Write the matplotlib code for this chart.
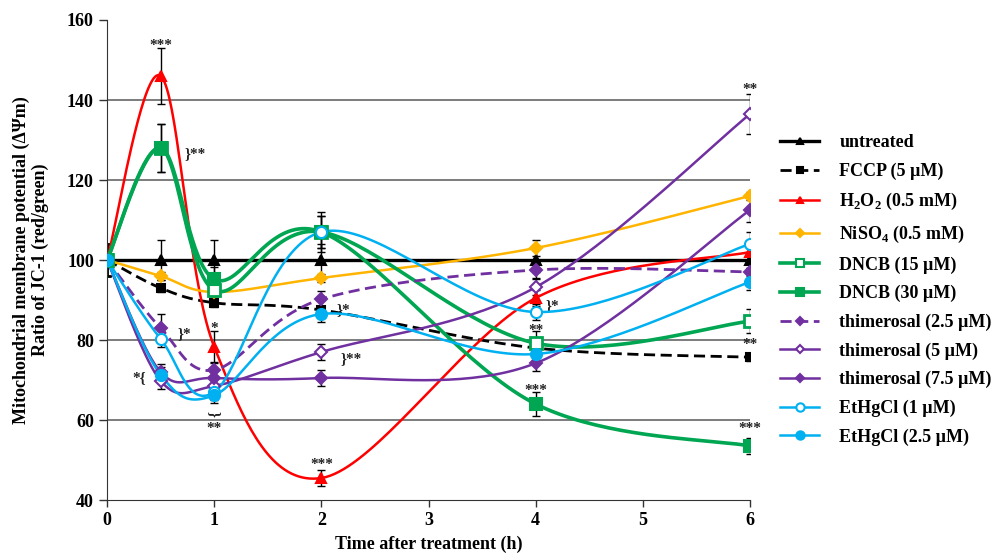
import numpy as np
import matplotlib
matplotlib.use("Agg")
import matplotlib.pyplot as plt
from matplotlib.lines import Line2D

plt.rcParams['font.family'] = ['Liberation Serif', 'DejaVu Serif']
plt.rcParams['font.weight'] = 'bold'
plt.rcParams['mathtext.fontset'] = 'custom'
plt.rcParams['mathtext.rm'] = 'Liberation Serif:bold'
plt.rcParams['mathtext.bf'] = 'Liberation Serif:bold'

time_h = [0, 0.5, 1, 2, 4, 6]
x_ticks = [0, 1, 2, 3, 4, 5, 6]
y_ticks = [40, 60, 80, 100, 120, 140, 160]

untreated = [100, 100, 100, 100, 100, 100]
fccp = [100, 93, 89.3, 87.5, 78, 75.7]
h2o2 = [100, 146, 78.3, 45.5, 90.5, 102]
niso4 = [100, 96, 92, 95.5, 103, 116]
dncb15 = [100, 128, 92.5, 107, 79.2, 84.7]
dncb30 = [100, 128, 95.2, 107, 64, 53.5]
thim25 = [100, 83, 72.5, 90.2, 97.5, 97]
thim5 = [100, 69.8, 68.5, 77, 93.2, 136.5]
thim75 = [100, 72, 70.5, 70.5, 74.2, 112.5]
ethg1 = [100, 80.3, 67, 107, 87, 104]
ethg25 = [100, 71.3, 66.2, 86.5, 76.5, 94.5]

err_untreated = [4, 5, 5, 4, 3, 2]
err_fccp = [4, 1, 1, 1, 1, 1]
err_h2o2 = [4, 7, 4, 2, 2, 1]
err_niso4 = [4, 1, 1, 1, 2, 1]
err_dncb15 = [4, 6, 3, 4, 3, 3]
err_dncb30 = [4, 6, 3, 5, 3, 2]
err_thim25 = [4, 3.5, 2, 2, 2, 1]
err_thim5 = [4, 2, 2, 2, 2, 5]
err_thim75 = [4, 2, 2, 2, 2, 3]
err_ethg1 = [4, 2, 2, 4, 2, 3]
err_ethg25 = [4, 2, 2, 2, 2, 2]

labels = ["untreated", "FCCP (5 µM)", r"H$_{2}$O$_{2}$ (0.5 mM)", r"NiSO$_{4}$ (0.5 mM)",
          "DNCB (15 µM)", "DNCB (30 µM)", "thimerosal (2.5 µM)", "thimerosal (5 µM)",
          "thimerosal (7.5 µM)", "EtHgCl (1 µM)", "EtHgCl (2.5 µM)"]

BLACK, RED, ORANGE, GREEN, PURPLE, CYAN = '#000000', '#FF0000', '#FFB400', '#00A651', '#7030A0', '#00B0F0'

series = [
    (untreated, err_untreated, BLACK, '-', '^', True, 2.4, 7),
    (fccp, err_fccp, BLACK, '--', 's', True, 2.0, 6),
    (h2o2, err_h2o2, RED, '-', '^', True, 1.8, 7),
    (niso4, err_niso4, ORANGE, '-', 'D', True, 1.8, 6),
    (dncb15, err_dncb15, GREEN, '-', 's', False, 2.6, 8),
    (dncb30, err_dncb30, GREEN, '-', 's', True, 2.6, 8),
    (thim25, err_thim25, PURPLE, '--', 'D', True, 2.0, 6.5),
    (thim5, err_thim5, PURPLE, '-', 'D', False, 1.8, 6.5),
    (thim75, err_thim75, PURPLE, '-', 'D', True, 1.8, 6.5),
    (ethg1, err_ethg1, CYAN, '-', 'o', False, 1.8, 8),
    (ethg25, err_ethg25, CYAN, '-', 'o', True, 1.8, 8),
]

def smooth(xs, ys, n=40):
    P = np.column_stack([xs, ys]).astype(float)
    m = len(P)
    out = []
    for i in range(m - 1):
        p0 = P[i - 1] if i > 0 else P[i]
        p1 = P[i]
        p2 = P[i + 1]
        p3 = P[i + 2] if i + 2 < m else P[i + 1]
        c1 = p1 + (p2 - p0) / 6.0
        c2 = p2 - (p3 - p1) / 6.0
        t = np.linspace(0, 1, n)[:, None]
        seg = ((1 - t) ** 3) * p1 + 3 * ((1 - t) ** 2) * t * c1 + 3 * (1 - t) * t ** 2 * c2 + t ** 3 * p2
        out.append(seg if i == 0 else seg[1:])
    out = np.vstack(out)
    return out[:, 0], out[:, 1]

fig = plt.figure(figsize=(9.93, 5.57), dpi=100)
ax = fig.add_axes([0.1078, 0.1023, 0.6475, 0.8618])
ax.set_xlim(0, 6)
ax.set_ylim(40, 160)

for yv in y_ticks[1:-1]:
    ax.plot([0, 6], [yv, yv], color='#666666', lw=1.2, zorder=1)

handles = []
for k, (vals, errs, col, ls, mk, filled, lw, ms) in enumerate(series):
    ax.errorbar(time_h, vals, yerr=errs, fmt='none', ecolor='black', elinewidth=1.0,
                capsize=3, capthick=1.0, zorder=2)
    sx, sy = smooth(time_h, vals)
    line, = ax.plot(sx, sy, color=col, lw=lw, zorder=3 + k * 0.1)
    if ls == '--':
        line.set_dashes((4, 2))
    fc = col if filled else 'white'
    ax.plot(time_h, vals, linestyle='none', marker=mk, ms=ms, mfc=fc, mec=col,
            mew=2.0 if (mk == 's' and not filled) else 1.5, zorder=4 + k * 0.1)
    h = Line2D([0], [0], color=col, lw=lw, marker=mk, ms=ms - 2, mfc=fc, mec=col, mew=1.5)
    if ls == '--':
        h.set_dashes((4, 2))
    handles.append(h)

ax.spines['top'].set_visible(False)
ax.spines['right'].set_visible(False)
ax.spines['left'].set_color('#333333')
ax.spines['bottom'].set_color('#333333')
ax.set_xticks(x_ticks)
ax.set_yticks(y_ticks)
ax.tick_params(direction='out', length=6, width=1, labelsize=13, color='#333333')
ax.tick_params(axis='x', length=5)
for t in ax.get_xticklabels() + ax.get_yticklabels():
    t.set_fontweight('bold')
ax.set_xlabel("Time after treatment (h)", fontsize=13, fontweight='bold', labelpad=5)
ax.set_ylabel("Mitochondrial membrane potential (ΔΨm)\nRatio of JC-1 (red/green)",
              fontsize=13, fontweight='bold', labelpad=13, linespacing=1.1)

# significance annotations
ann = dict(fontsize=11, ha='center', va='center', color='#222222')
ax.text(0.5, 153.5, "***", **ann)
ax.text(0.82, 126.5, "}**", **ann)
ax.text(0.72, 81.5, "}*", **ann)
ax.text(0.3, 70.5, "*{", **ann)
ax.text(1.0, 83, "*", **ann)
ax.text(1.0, 61.5, "}", fontsize=11, rotation=-90, ha='center', va='center', color='#222222')
ax.text(1.0, 58, "**", **ann)
ax.text(2.2, 87.5, "}*", **ann)
ax.text(2.28, 75.3, "}**", **ann)
ax.text(2.0, 49, "***", **ann)
ax.text(4.15, 88.5, "}*", **ann)
ax.text(4.0, 82.5, "**", **ann)
ax.text(4.0, 67.5, "***", **ann)
ax.text(6.0, 142.5, "**", **ann)
ax.text(6.0, 79, "**", **ann)
ax.text(6.0, 58, "***", **ann)

leg = fig.legend(handles, labels, loc='upper left', bbox_to_anchor=(0.778, 0.772),
                 frameon=False, fontsize=13, handlelength=2.2, labelspacing=0.63,
                 handletextpad=1.1, borderaxespad=0)
for t in leg.get_texts():
    t.set_fontweight('bold')

fig.savefig("out.png", dpi=100)
